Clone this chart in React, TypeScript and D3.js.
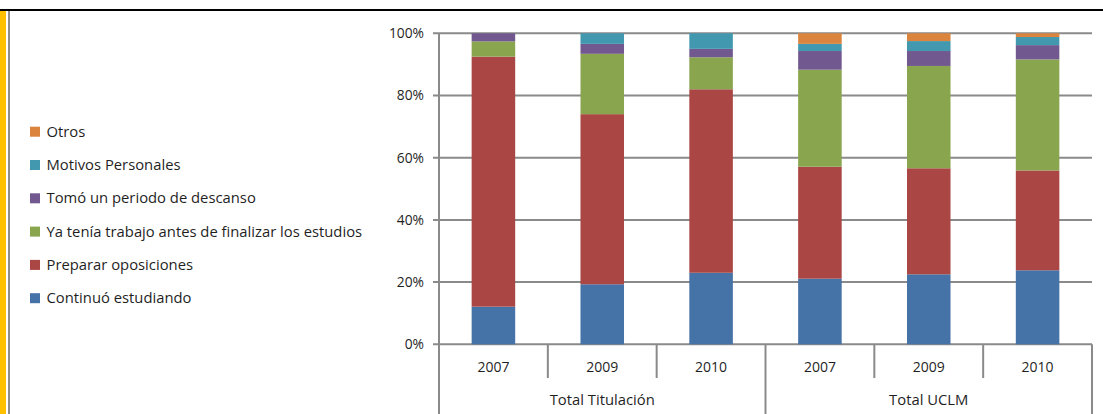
import React from "react";
import * as d3 from "d3";

const groups = ["Total Titulación", "Total UCLM"];
const years = ["2007", "2009", "2010"];
const seriesNames = [
  "Continuó estudiando",
  "Preparar oposiciones",
  "Ya tenía trabajo antes de finalizar los estudios",
  "Tomó un periodo de descanso",
  "Motivos Personales",
  "Otros",
];
const seriesColors = ["#4572A7", "#AA4643", "#89A54E", "#71588F", "#4198AF", "#DB843D"];
// values per bar (Titulación 2007, 2009, 2010, UCLM 2007, 2009, 2010)
const continuo = [12.1, 19.3, 23.0, 21.1, 22.5, 23.8];
const oposiciones = [80.4, 54.7, 59.0, 36.0, 34.1, 32.1];
const trabajo = [4.9, 19.4, 10.3, 31.2, 32.9, 35.7];
const descanso = [2.6, 3.2, 2.7, 6.0, 4.8, 4.6];
const personales = [0, 3.4, 5.0, 2.3, 3.2, 2.6];
const otros = [0, 0, 0, 3.4, 2.5, 1.2];
const yTicks = [0, 20, 40, 60, 80, 100];

const FONT = "'Open Sans', 'Noto Sans', sans-serif";

export default function App() {
  const W = 1103, H = 414;
  const x0 = 439, x1 = 1092, yTop = 33.3, yBot = 344.3;
  const cats = groups.flatMap((g) => years.map((y) => `${g}|${y}`));
  const x = d3.scaleBand().domain(cats).range([x0, x1]).paddingInner(0.6).paddingOuter(0.3);
  const xCat = d3.scaleBand().domain(cats).range([x0, x1]);
  const y = d3.scaleLinear().domain([0, 100]).range([yBot, yTop]);
  const allSeries = [continuo, oposiciones, trabajo, descanso, personales, otros];
  const rows = cats.map((c, i) => {
    const r: any = { cat: c };
    seriesNames.forEach((s, k) => (r[s] = allSeries[k][i]));
    return r;
  });
  const stacked = d3.stack().keys(seriesNames)(rows);
  const gridColor = "#8a8a8a";
  const textColor = "#1f1f1f";
  const legendOrder = [...seriesNames.keys()].reverse();

  return (
    <svg width={W} height={H} style={{ position: "absolute", left: 0, top: 0, background: "#fff" }} fontFamily={FONT}>
      <rect x={0} y={9} width={W} height={2} fill="#000" />
      <rect x={0} y={11} width={6} height={H - 11} fill="#FFC000" />
      <rect x={8} y={11} width={2} height={H - 11} fill="#8e8e8e" />
      {yTicks.map((t) => (
        <g key={t}>
          <line x1={x0 - 6} x2={x1} y1={y(t)} y2={y(t)} stroke={gridColor} strokeWidth={2} />
          <text x={424} y={y(t)} dy="0.35em" textAnchor="end" fontSize={13.8} fill={textColor}>{t}%</text>
        </g>
      ))}
      {stacked.map((s, k) => (
        <g key={s.key} fill={seriesColors[k]}>
          {s.map((d: any, i) => (
            d[1] - d[0] > 0 ? (
              <rect key={i} x={x(cats[i])} width={x.bandwidth()} y={y(d[1])} height={y(d[0]) - y(d[1])} />
            ) : null
          ))}
        </g>
      ))}
      <line x1={x0} x2={x0} y1={yTop} y2={H} stroke={gridColor} strokeWidth={2} />
      {cats.map((c, i) => {
        const left = xCat(c)!;
        const boundary = i % 3 === 0;
        return (
          <g key={c}>
            {i > 0 && (
              <line x1={left} x2={left} y1={yBot} y2={boundary ? H : 378} stroke={gridColor} strokeWidth={2} />
            )}
            <text x={left + xCat.bandwidth() / 2} y={366.7} dy="0.35em" textAnchor="middle" fontSize={14} fill={textColor}>{c.split("|")[1]}</text>
          </g>
        );
      })}
      <line x1={x1} x2={x1} y1={yBot} y2={H} stroke={gridColor} strokeWidth={2} />
      {groups.map((g) => {
        const a = xCat(`${g}|${years[0]}`)!;
        const b = xCat(`${g}|${years[2]}`)! + xCat.bandwidth();
        return (
          <text key={g} x={(a + b) / 2} y={400} dy="0.35em" textAnchor="middle" fontSize={14.8} fill={textColor}>{g}</text>
        );
      })}
      {legendOrder.map((k, j) => {
        const cy = 131.7 + j * 33.3;
        return (
          <g key={k}>
            <rect x={30} y={cy - 5} width={10} height={10} fill={seriesColors[k]} />
            <text x={46.5} y={cy} dy="0.35em" fontSize={14.8} fill={textColor}>{seriesNames[k]}</text>
          </g>
        );
      })}
    </svg>
  );
}
